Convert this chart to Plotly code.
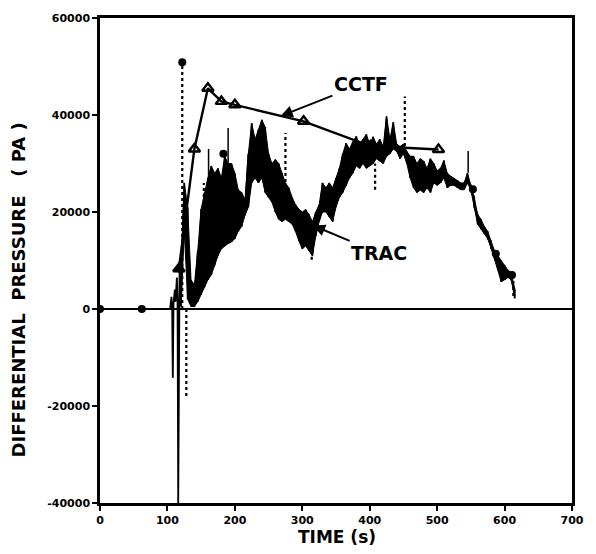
import plotly.graph_objects as go

# ---------------- data ----------------
# CCTF measured curve (triangles)
cctf_t = [117, 140, 160, 180, 200, 302, 401, 502]
cctf_p = [8300, 33000, 45500, 42800, 42100, 38700, 33600, 32900]

# TRAC: early part, single-valued points
trac_pre_t = [0, 62, 100, 104, 106, 107, 108, 109, 111, 112, 114, 115, 116, 117, 118, 119]
trac_pre_p = [0, 0, 0, 0, 2500, 0, -14200, 1000, 4000, 1500, 6500, 2000, -40000, 7000, 8300, 3000]

# TRAC: oscillating band, upper / lower extent at each time
trac_t = [120, 125, 130, 135, 140, 145, 150, 155, 160, 165, 170, 175, 180, 185, 190, 195,
          200, 205, 210, 215, 220, 225, 230, 235, 240, 245, 250, 255, 260, 265, 270, 275,
          280, 285, 290, 295, 300, 305, 310, 315, 320, 325, 330, 335, 340, 345, 350, 355,
          360, 365, 370, 375, 380, 385, 390, 395, 400, 405, 410, 415, 420, 425, 430, 435,
          440, 445, 450, 455, 460, 465, 470, 475, 480, 485, 490, 495, 500, 505, 510, 515,
          520, 525, 530, 535, 540, 545, 550, 555, 560, 565, 570, 575, 580, 585, 590, 595,
          600, 605, 610, 615]
trac_hi = [9000, 26000, 21000, 6000, 5000, 12000, 20600, 24000, 27000, 29500, 28000, 29000,
           27000, 31500, 30000, 30000, 28000, 24600, 24000, 22600, 32000, 38300, 35000, 37000,
           39000, 37500, 32000, 30000, 30800, 30000, 28000, 26000, 25000, 23000, 21500, 20600,
           20000, 20500, 19500, 18000, 20000, 21500, 26000, 25000, 26000, 25000, 27000, 29000,
           32000, 34200, 33000, 34500, 35600, 34000, 35000, 36000, 34000, 35500, 34000, 35000,
           33500, 39700, 35000, 38500, 34000, 33500, 34000, 32500, 31500, 31500, 30000, 31000,
           30500, 29000, 31000, 30000, 28500, 29000, 30600, 28000, 27400, 27000, 26500, 26000,
           26000, 28000, 25500, 23000, 19500, 18500, 17000, 16000, 14000, 12000, 11000, 10000,
           9000, 8000, 7500, 4000]
trac_lo = [500, 16000, 2000, 500, 500, 1500, 2900, 4500, 6000, 7000, 9000, 11000,
           12400, 13000, 13500, 13800, 14500, 16000, 17000, 19300, 21000, 26000, 27000, 26000,
           27000, 24000, 23000, 22000, 20000, 18500, 18000, 18500, 18000, 17500, 16000, 14000,
           12400, 13000, 12000, 11000, 15000, 18000, 20000, 20000, 19000, 18000, 21000, 23000,
           24000, 25400, 27000, 28000, 29500, 29000, 30000, 29000, 29500, 30000, 31000, 30500,
           30000, 31500, 32000, 33000, 32500, 31000, 32000, 30000, 27000, 25000, 24000, 24500,
           24000, 25000, 24000, 26000, 25500, 26000, 27000, 25000, 25500, 25500, 25000, 24600,
           24600, 26000, 24500, 21000, 17500, 16500, 15500, 14500, 12500, 10500, 8000, 5600,
           6000, 6500, 6000, 2200]

# TRAC isolated spikes: time, from, to
spike_t = [122, 128, 154, 275, 314, 408, 452, 613, 261]
spike_a = [0, 0, 7000, 20000, 12000, 24600, 33600, 7000, 20000]
spike_b = [50900, -18500, 26000, 36300, 9700, 30000, 43800, 2200, 24600]
solid_t = [161, 190, 546]
solid_a = [10000, 15000, 28100]
solid_b = [33000, 37300, 32600]

# TRAC circle markers
dot_t = [0, 62, 118, 122, 183, 553, 587, 611]
dot_p = [0, 0, 8300, 50900, 32000, 24700, 11400, 7000]

x_ticks = [0, 100, 200, 300, 400, 500, 600, 700]
y_ticks = [-40000, -20000, 0, 20000, 40000, 60000]

# ---------------- build figure ----------------
fig = go.Figure()

# zero line
fig.add_trace(go.Scatter(x=[x_ticks[0], x_ticks[-1]], y=[0, 0], mode="lines",
                         line=dict(color="black", width=2), showlegend=False, hoverinfo="skip"))

# TRAC band filled between envelopes
fig.add_trace(go.Scatter(x=trac_t + trac_t[::-1], y=trac_hi + trac_lo[::-1], mode="lines",
                         fill="toself", fillcolor="black", line=dict(color="black", width=1),
                         showlegend=False, hoverinfo="skip"))

# TRAC zig-zag trace
zx, zy = [], []
for t, h, l in zip(trac_t, trac_hi, trac_lo):
    zx += [t, t]
    zy += [h, l]
fig.add_trace(go.Scatter(x=trac_pre_t + zx, y=trac_pre_p + zy, mode="lines",
                         line=dict(color="black", width=1.8), showlegend=False, name="TRAC"))

# dotted spikes
sx, sy = [], []
for t, a, b in zip(spike_t, spike_a, spike_b):
    sx += [t, t, None]
    sy += [a, b, None]
fig.add_trace(go.Scatter(x=sx, y=sy, mode="lines",
                         line=dict(color="black", width=2.2, dash="dot"), showlegend=False))
# thin solid spikes
qx, qy = [], []
for t, a, b in zip(solid_t, solid_a, solid_b):
    qx += [t, t, None]
    qy += [a, b, None]
fig.add_trace(go.Scatter(x=qx, y=qy, mode="lines",
                         line=dict(color="black", width=1.5), showlegend=False))

# TRAC circles
fig.add_trace(go.Scatter(x=dot_t, y=dot_p, mode="markers",
                         marker=dict(color="black", size=8, symbol="circle"), showlegend=False))

# CCTF
fig.add_trace(go.Scatter(x=cctf_t, y=cctf_p, mode="lines+markers",
                         line=dict(color="black", width=2.4),
                         marker=dict(symbol="triangle-up-open", size=10, color="black",
                                     line=dict(width=2.4, color="black")),
                         showlegend=False, name="CCTF"))

bold = dict(family="DejaVu Sans", color="black", weight="bold")

fig.add_annotation(x=268, y=39800, ax=387, ay=46300, axref="x", ayref="y",
                   text="CCTF", showarrow=True, arrowhead=2, arrowsize=1.2, arrowwidth=2,
                   arrowcolor="black", font=dict(size=19, **bold))
fig.add_annotation(x=316, y=17200, ax=414, ay=11500, axref="x", ayref="y",
                   text="TRAC", showarrow=True, arrowhead=2, arrowsize=1.2, arrowwidth=2,
                   arrowcolor="black", font=dict(size=19, **bold))

fig.add_annotation(xref="paper", yref="paper", x=-0.172, y=0.44, xanchor="center", yanchor="middle",
                   text="DIFFERENTIAL  PRESSURE   ( PA )",
                   textangle=-90, showarrow=False, font=dict(size=18, **bold))
fig.add_annotation(xref="paper", yref="paper", x=0.503, y=-0.07, xanchor="center", yanchor="middle",
                   text="TIME (s)", showarrow=False, font=dict(size=17, **bold))

axis_common = dict(showline=True, linecolor="black", linewidth=2.5, mirror=True,
                   showgrid=False, zeroline=False, ticks="outside", ticklen=5,
                   tickwidth=2, tickcolor="black",
                   tickfont=dict(size=11, **bold))
fig.update_xaxes(range=[0, 700], tickvals=x_ticks, ticktext=[str(v) for v in x_ticks], **axis_common)
fig.update_yaxes(range=[-40000, 60000], tickvals=y_ticks, ticktext=[str(v) for v in y_ticks], **axis_common)

fig.update_layout(width=596, height=554, margin=dict(l=100, r=13, t=14, b=51),
                  plot_bgcolor="white", paper_bgcolor="white", showlegend=False)

fig.write_html("out.html")
